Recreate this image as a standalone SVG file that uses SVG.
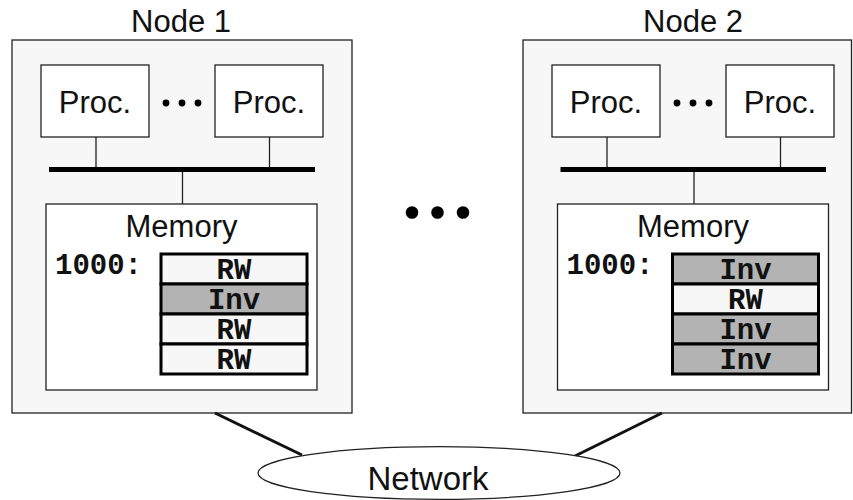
<svg xmlns="http://www.w3.org/2000/svg" width="853" height="500" viewBox="0 0 853 500">
  <style>
    .node { fill: #f7f7f7; stroke: #222; stroke-width: 1.3; }
    .box { fill: #ffffff; stroke: #222; stroke-width: 1.3; }
    .wire { stroke: #222; stroke-width: 1.3; fill: none; }
    .bus { stroke: #000; stroke-width: 5; }
    .link { stroke: #111; stroke-width: 3; }
    .sans { font-family: "Liberation Sans", Arial, Helvetica, sans-serif; font-size: 31px; fill: #111; text-anchor: middle; }
    .net { font-size: 33px; }
    .mono { font-family: "Liberation Mono", "Courier New", monospace; font-weight: bold; fill: #111; }
    .addr { font-size: 29px; }
    .cell-txt { font-size: 29px; text-anchor: middle; }
    .rw { fill: #f7f7f7; stroke: #000; stroke-width: 3; }
    .inv { fill: #b3b3b3; stroke: #000; stroke-width: 3; }
    .dot { fill: #000; }
  </style>

  <!-- Node 1 -->
  <g id="node1">
    <text class="sans" x="181" y="32">Node 1</text>
    <rect class="node" x="12" y="40" width="340" height="373"/>
    <g id="node1-proc-a">
      <rect class="box" x="41" y="65" width="108" height="72"/>
      <text class="sans" x="95" y="113">Proc.</text>
    </g>
    <circle class="dot" cx="166" cy="103" r="3.4"/>
    <circle class="dot" cx="182" cy="103" r="3.4"/>
    <circle class="dot" cx="198" cy="103" r="3.4"/>
    <g id="node1-proc-b">
      <rect class="box" x="215" y="65" width="108" height="72"/>
      <text class="sans" x="269" y="113">Proc.</text>
    </g>
    <line class="wire" x1="96" y1="137" x2="96" y2="169"/>
    <line class="wire" x1="269.5" y1="137" x2="269.5" y2="169"/>
    <line class="wire" x1="182.5" y1="169" x2="182.5" y2="204"/>
    <line class="bus" x1="49" y1="169.5" x2="315" y2="169.5"/>
    <g id="node1-memory">
      <rect class="box" x="46" y="204" width="271" height="186"/>
      <text class="sans" x="181.5" y="237">Memory</text>
      <text class="mono addr" x="55" y="274">1000:</text>
      <rect class="rw" x="161" y="254" width="146" height="30"/>
      <text class="mono cell-txt" x="234" y="279">RW</text>
      <rect class="inv" x="161" y="284" width="146" height="30"/>
      <text class="mono cell-txt" x="234" y="309">Inv</text>
      <rect class="rw" x="161" y="314" width="146" height="30"/>
      <text class="mono cell-txt" x="234" y="339">RW</text>
      <rect class="rw" x="161" y="344" width="146" height="30"/>
      <text class="mono cell-txt" x="234" y="369">RW</text>
    </g>
  </g>

  <!-- Node 2 -->
  <g id="node2">
    <text class="sans" x="693" y="32">Node 2</text>
    <rect class="node" x="523" y="40" width="328.5" height="373"/>
    <g id="node2-proc-a">
      <rect class="box" x="552" y="65" width="108" height="72"/>
      <text class="sans" x="606" y="113">Proc.</text>
    </g>
    <circle class="dot" cx="677" cy="103" r="3.4"/>
    <circle class="dot" cx="693" cy="103" r="3.4"/>
    <circle class="dot" cx="709" cy="103" r="3.4"/>
    <g id="node2-proc-b">
      <rect class="box" x="726" y="65" width="108" height="72"/>
      <text class="sans" x="780" y="113">Proc.</text>
    </g>
    <line class="wire" x1="607" y1="137" x2="607" y2="169"/>
    <line class="wire" x1="780.5" y1="137" x2="780.5" y2="169"/>
    <line class="wire" x1="694" y1="169" x2="694" y2="204"/>
    <line class="bus" x1="560.5" y1="169.5" x2="826" y2="169.5"/>
    <g id="node2-memory">
      <rect class="box" x="557.5" y="204" width="271" height="186"/>
      <text class="sans" x="693" y="237">Memory</text>
      <text class="mono addr" x="566.5" y="274">1000:</text>
      <rect class="inv" x="672.5" y="254" width="146" height="30"/>
      <text class="mono cell-txt" x="745.5" y="279">Inv</text>
      <rect class="rw" x="672.5" y="284" width="146" height="30"/>
      <text class="mono cell-txt" x="745.5" y="309">RW</text>
      <rect class="inv" x="672.5" y="314" width="146" height="30"/>
      <text class="mono cell-txt" x="745.5" y="339">Inv</text>
      <rect class="inv" x="672.5" y="344" width="146" height="30"/>
      <text class="mono cell-txt" x="745.5" y="369">Inv</text>
    </g>
  </g>

  <!-- ellipsis between the nodes -->
  <g id="more-nodes">
    <circle class="dot" cx="412" cy="212.5" r="6.3"/>
    <circle class="dot" cx="437.5" cy="212.5" r="6.3"/>
    <circle class="dot" cx="463" cy="212.5" r="6.3"/>
  </g>

  <!-- links from the nodes down to the network -->
  <g id="connectors">
    <line class="link" x1="215" y1="413" x2="302" y2="455"/>
    <line class="link" x1="662" y1="413" x2="575" y2="456"/>
  </g>

  <g id="network">
    <ellipse class="box" cx="439" cy="473" rx="181" ry="26.3"/>
    <text class="sans net" x="428" y="490">Network</text>
  </g>
</svg>
